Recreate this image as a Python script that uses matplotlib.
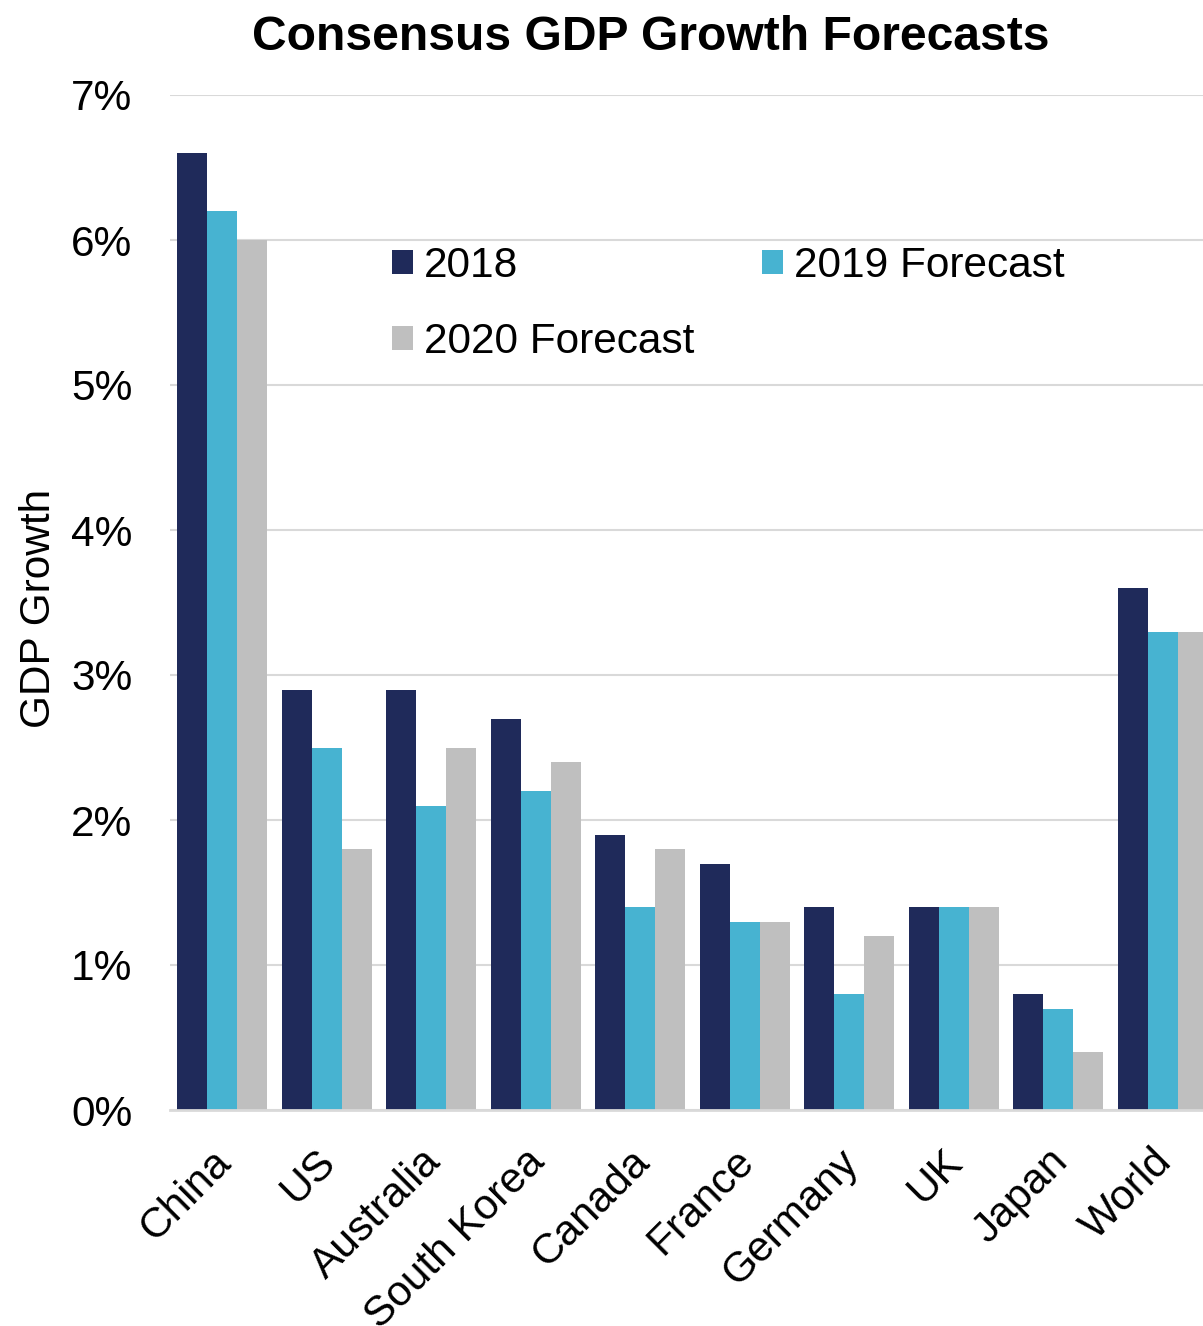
import numpy as np
import matplotlib
matplotlib.use("Agg")
import matplotlib.pyplot as plt
import matplotlib.transforms as mtransforms

# consensus GDP growth forecasts, in percent
countries = ["China", "US", "Australia", "South Korea", "Canada",
             "France", "Germany", "UK", "Japan", "World"]
growth_2018 = [6.6, 2.9, 2.9, 2.7, 1.9, 1.7, 1.4, 1.4, 0.8, 3.6]
forecast_2019 = [6.2, 2.5, 2.1, 2.2, 1.4, 1.3, 0.8, 1.4, 0.7, 3.3]
forecast_2020 = [6.0, 1.8, 2.5, 2.4, 1.8, 1.3, 1.2, 1.4, 0.4, 3.3]
series_names = ["2018", "2019 Forecast", "2020 Forecast"]
y_ticks = [0, 1, 2, 3, 4, 5, 6, 7]

colors = ["#1F2A5A", "#47B3D1", "#BFBFBF"]
fs = 30.5

plt.rcParams["font.family"] = ["Liberation Sans", "DejaVu Sans"]

fig = plt.figure(figsize=(12.03, 13.26), dpi=100)
W, H = 1203, 1326
ax = fig.add_axes([170 / W, 216 / H, 1045 / W, 1015 / H])

x = np.arange(len(countries))
width = 0.287
bars = []
for i, vals in enumerate([growth_2018, forecast_2019, forecast_2020]):
    b = ax.bar(x + (i - 1) * width, vals, width, color=colors[i],
               label=series_names[i], zorder=3)
    bars.append(b)

ax.set_xlim(-0.5, len(countries) - 0.5)
ax.set_ylim(0, 7)
ax.set_yticks(y_ticks)
ax.set_yticklabels([f"{t}%" for t in y_ticks], fontsize=fs)
ax.tick_params(axis="y", length=0, pad=27)
ax.tick_params(axis="x", length=0, pad=14)
ax.set_xticks(x)
ax.set_xticklabels(countries, fontsize=fs, rotation=45,
                   ha="right", va="top", rotation_mode="anchor")
# nudge the slanted country names down and to the left
shift = mtransforms.ScaledTranslation(-0.11, -0.12, fig.dpi_scale_trans)
for lbl in ax.get_xticklabels():
    lbl.set_transform(lbl.get_transform() + shift)

ax.grid(axis="y", color="#D9D9D9", linewidth=1.5, zorder=0)
for side in ["left", "right", "top"]:
    ax.spines[side].set_visible(False)
ax.spines["bottom"].set_color("#D9D9D9")
ax.spines["bottom"].set_linewidth(2)
ax.spines["bottom"].set_zorder(4)

ax.set_ylabel("GDP Growth", fontsize=fs)
ax.yaxis.set_label_coords(-0.106, 0.494)

fig.text(651 / W, 1 - 50 / H, "Consensus GDP Growth Forecasts",
         fontsize=34.6, fontweight="bold", ha="center", va="baseline")

# row-wise legend: 2018 | 2019 Forecast, then 2020 Forecast
order = [0, 2, 1]
ax.legend([bars[k] for k in order], [series_names[k] for k in order],
          loc="upper left", bbox_to_anchor=(392 / W, 1 - 246 / H),
          bbox_transform=fig.transFigure, ncol=2, frameon=False,
          fontsize=fs, handlelength=0.5, handleheight=0.5,
          handletextpad=0.25, columnspacing=1.6, labelspacing=0.85,
          borderpad=0, borderaxespad=0)

fig.savefig("out.png", dpi=100)
